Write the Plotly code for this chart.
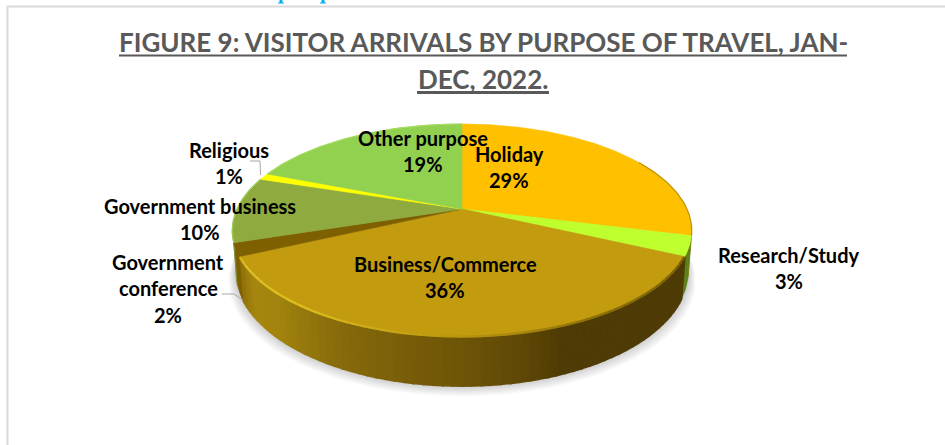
import math
import plotly.graph_objects as go

# --- data ---
categories = ["Holiday", "Research/Study", "Business/Commerce", "Government conference",
              "Government business", "Religious", "Other purpose"]
values = [29, 3, 36, 2, 10, 1, 19]
top_colors = ["#FFC000", "#BFFF2E", "#C39B0E", "#7F6000", "#8FAB3F", "#FFFF00", "#92D050"]
side_colors = ["#B58A00", "#5F801A", None, "#7F6000", "#7C9A35", "#B8B800", "#6FA03A"]
title_lines = ["FIGURE 9: VISITOR ARRIVALS BY PURPOSE OF TRAVEL, JAN-", "DEC, 2022."]
label_lines = [["Holiday"], ["Research/Study"], ["Business/Commerce"], ["Government", "conference"],
               ["Government business"], ["Religious"], ["Other purpose"]]
label_centers = [(509, 154), (789, 255), (445, 264), (168, 262), (200, 206), (229, 150), (423, 138)]

# --- projection of the tilted pie into page pixels ---
CX, CY, R, S, K, DEPTH, TAPER = 462, 209, 225, 102.2, 0.202, 39, 0.985


def top(theta):
    t = math.radians(theta)
    u, v = math.sin(t), math.cos(t)
    w = 1 + K * v
    return CX + R * u / w, CY - S * v / w


def bottom(theta, grow=0.0, extra=0.0):
    t = math.radians(theta)
    u, v = math.sin(t), math.cos(t)
    w = 1 + K * v
    return CX + R * (TAPER + grow) * u / w, CY - S * v / w + DEPTH / w + extra


def arange(a, b, step=0.5):
    n = max(2, int(abs(b - a) / step) + 1)
    return [a + (b - a) * i / (n - 1) for i in range(n)]


def mix(stops, t):
    if t <= stops[0][0]:
        return stops[0][1]
    for (a, ca), (b, cb) in zip(stops, stops[1:]):
        if t <= b:
            f = (t - a) / (b - a)
            ch = [int(ca[i:i + 2], 16) * (1 - f) + int(cb[i:i + 2], 16) * f for i in (1, 3, 5)]
            return "#%02x%02x%02x" % tuple(int(c) for c in ch)
    return stops[-1][1]


side_stops = [(115, "#4E3B05"), (158, "#4E3B05"), (166, "#5C4606"), (180, "#6E5508"), (205, "#85690B"),
              (225, "#A3840F"), (236, "#A6870F"), (244.8, "#8F700A")]
rim_stops = [(115, "#7A6008"), (150, "#8A6E0A"), (180, "#B8960F"), (215, "#DDBD20"), (240, "#E0C028"),
             (244.8, "#D0AE18")]

fig = go.Figure()


def poly(xs, ys, color, width=0.6):
    fig.add_trace(go.Scatter(
        x=xs, y=ys, mode="lines", fill="toself", fillcolor=color,
        line=dict(color=color, width=width),
        hoverinfo="skip", showlegend=False))


def curve(xs, ys, color, width):
    fig.add_trace(go.Scatter(x=xs, y=ys, mode="lines", line=dict(color=color, width=width),
                             hoverinfo="skip", showlegend=False))


# soft shadow beneath the pie
for i in range(8, 0, -1):
    pts = [bottom(a, 0.004 * i, 1.3 * i) for a in arange(0, 360, 3)]
    fig.add_trace(go.Scatter(x=[p[0] for p in pts], y=[p[1] for p in pts], mode="lines", fill="toself",
                             fillcolor="rgba(0,0,0,0.022)", line=dict(width=0),
                             hoverinfo="skip", showlegend=False))

# slice angles, clockwise from twelve o'clock
total = sum(values)
starts, ends = [], []
running = 0
for val in values:
    starts.append(360 * running / total)
    running += val
    ends.append(360 * running / total)

# outer wall of each front-facing slice
for i, cat in enumerate(categories):
    a, b = max(starts[i], 100), min(ends[i], 260)
    if a >= b:
        continue
    if side_colors[i] is None:
        angles = arange(a, b, 2.0)
        for p, q in zip(angles, angles[1:]):
            s0, s1 = top(p), top(q)
            b0, b1 = bottom(p), bottom(q)
            poly([s0[0], s1[0], b1[0], b0[0], s0[0]], [s0[1], s1[1], b1[1], b0[1], s0[1]],
                 mix(side_stops, (p + q) / 2), 2.0)
    else:
        angles = arange(a, b, 0.5)
        t = [top(x) for x in angles]
        o = [bottom(x) for x in reversed(angles)]
        pts = t + o + t[:1]
        poly([p[0] for p in pts], [p[1] for p in pts], side_colors[i])

# top faces
for i, cat in enumerate(categories):
    arc = [top(x) for x in arange(starts[i], ends[i], 0.5)]
    pts = [(CX, CY)] + arc + [(CX, CY)]
    poly([p[0] for p in pts], [p[1] for p in pts], top_colors[i])

# rim highlights
for i, cat in enumerate(categories):
    if cat == "Business/Commerce":
        angles = arange(starts[i] + 0.6, ends[i] - 0.6, 2)
        for p, q in zip(angles, angles[1:]):
            s0, s1 = top(p), top(q)
            curve([s0[0], s1[0]], [s0[1] - 0.6, s1[1] - 0.6], mix(rim_stops, (p + q) / 2), 2.4)
    elif cat == "Holiday":
        arc = [top(x) for x in arange(60, ends[i], 1)]
        curve([p[0] for p in arc], [p[1] for p in arc], "#C09300", 1.2)
    elif cat in ("Government business", "Other purpose"):
        arc = [top(x) for x in arange(starts[i], ends[i], 1)]
        curve([p[0] for p in arc], [p[1] for p in arc], "#A6DC62" if cat == "Other purpose" else "#9CCB52", 1.2)

fig.update_xaxes(range=[0, 945], visible=False, fixedrange=True)
fig.update_yaxes(range=[445, 0], visible=False, fixedrange=True)

# frame of the chart
shapes = [
    dict(type="line", x0=7, x1=945, y0=6.5, y1=6.5, line=dict(color="#D9D9D9", width=2)),
    dict(type="line", x0=7.5, x1=7.5, y0=6, y1=445, line=dict(color="#D9D9D9", width=2)),
    dict(type="path", path="M 250 161 L 260 161 L 260.5 175", line=dict(color="#A6A6A6", width=1)),
    dict(type="path", path="M 222 294 L 234 294 L 243 300", line=dict(color="#A6A6A6", width=1)),
    dict(type="line", x0=119, x1=847, y0=55.5, y1=55.5, line=dict(color="#595959", width=2)),
    dict(type="line", x0=417, x1=549, y0=92.5, y1=92.5, line=dict(color="#595959", width=3)),
]
# two illegible blue glyph stubs left at the very top edge by the crop of the source page
for stub_x in (281, 323):
    shapes.append(dict(type="line", x0=stub_x, x1=stub_x, y0=0, y1=3,
                       line=dict(color="#00B0F0", width=3)))
    shapes.append(dict(type="line", x0=stub_x - 3, x1=stub_x + 3, y0=3, y1=3,
                       line=dict(color="#00B0F0", width=1)))

annotations = []


def text(x, y, s, size, color, family="Lato", **font):
    annotations.append(dict(x=x, y=y, xref="x", yref="y", text=s, showarrow=False,
                            xanchor="center", yanchor="middle",
                            font=dict(family=family, size=size, color=color, **font)))


text(483, 42, "<b>" + title_lines[0] + "</b>", 26, "#595959")
text(483, 78.5, "<b>" + title_lines[1] + "</b>", 26, "#595959")

for i, lines in enumerate(label_lines):
    x, y = label_centers[i]
    for j, ln in enumerate(lines + [f"{values[i]}%"]):
        text(x, y + j * 26.3, "<b>" + ln + "</b>", 20, "#000000")

fig.update_layout(width=945, height=445, autosize=False, margin=dict(l=0, r=0, t=0, b=0),
                  paper_bgcolor="white", plot_bgcolor="white", showlegend=False,
                  shapes=shapes, annotations=annotations, hovermode=False)

fig.write_html("out.html", config={"displayModeBar": False, "responsive": False},
               post_script="document.body.style.margin='0';document.body.style.overflow='hidden';")
